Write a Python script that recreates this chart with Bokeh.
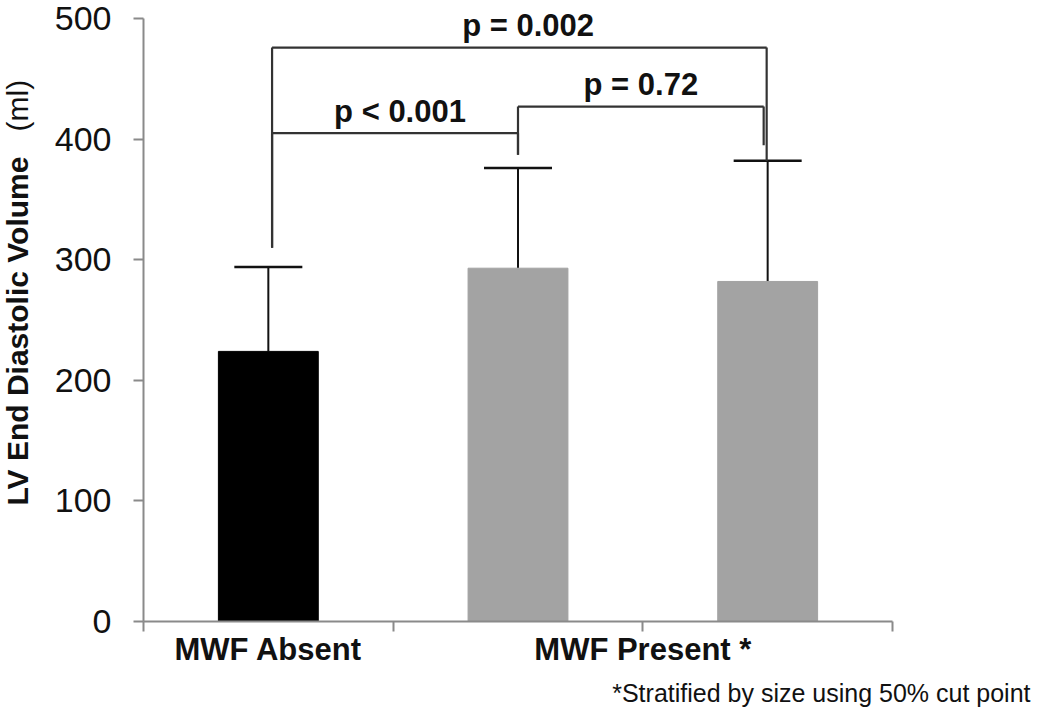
import math
from bokeh.plotting import figure
from bokeh.layouts import row
from bokeh.models import (Range1d, FixedTicker, Whisker, TeeHead, ColumnDataSource,
                          LinearAxis, Title)
from bokeh.core.properties import value
from bokeh.embed import file_html
from bokeh.resources import INLINE

# ---------------- data ----------------
categories = ["MWF Absent", "MWF Present (small)", "MWF Present (large)"]
means = [224, 293, 282]
sd = [70, 83, 100]
bar_colors = ["#000000", "#a3a3a3", "#a3a3a3"]

group_labels = ["MWF Absent", "MWF Present *"]
group_members = [[0], [1, 2]]

y_ticks = [0, 100, 200, 300, 400, 500]

cmp_pairs = [(0, 1), (1, 2), (0, 2)]
cmp_y = [405, 427, 476]
cmp_left_end = [310, 387, 310]
cmp_right_end = [387, 395, 382]
cmp_text = ["p < 0.001", "p = 0.72", "p = 0.002"]

y_label_bold = "LV End Diastolic Volume"
y_label_unit = "(ml)"
footnote = "*Stratified by size using 50% cut point"

FONT = "Liberation Sans"
H = 714
LABEL_W = 40
FRAME_BOTTOM = 621  # pixel row of the x axis

# ---------------- main figure ----------------
p = figure(width=1034 - LABEL_W, height=H, output_backend="svg", toolbar_location=None,
           x_range=Range1d(0, len(categories)), y_range=Range1d(0, 515),
           min_border_left=143 - LABEL_W, min_border_right=142, min_border_top=0,
           min_border_bottom=H - FRAME_BOTTOM)
p.outline_line_color = None
p.grid.visible = False
p.background_fill_color = "white"
p.border_fill_color = "white"

xc = [i + 0.5 for i in range(len(categories))]
src = ColumnDataSource(dict(x=xc, top=means, color=bar_colors,
                            lower=means, upper=[m + s for m, s in zip(means, sd)]))
p.vbar(x="x", top="top", width=0.4, bottom=0, color="color", source=src)

wh = Whisker(base="x", lower="lower", upper="upper", dimension="height", source=src,
             line_color="#111111", line_width=2,
             upper_head=TeeHead(size=68, line_color="#111111", line_width=2.5),
             lower_head=None)
p.add_layout(wh)

# comparison brackets
left_dx = [0.015, 0.0, 0.015]
right_dx = [0.0, -0.016, -0.004]
text_dx = [0.02, 0.0, 0.035]
x0s, y0s, x1s, y1s = [], [], [], []
tx, ty = [], []
for (a, b), y, le, re, dl, dr, dt in zip(cmp_pairs, cmp_y, cmp_left_end, cmp_right_end,
                                         left_dx, right_dx, text_dx):
    xl = xc[a] + dl
    xr = xc[b] + dr
    x0s += [xl, xl, xr]
    y0s += [y, y, y]
    x1s += [xr, xl, xr]
    y1s += [y, le, re]
    tx.append((xl + xr) / 2 + dt)
    ty.append(y + 18)
p.segment(x0=x0s, y0=y0s, x1=x1s, y1=y1s, line_color="#333333", line_width=2.2)
p.text(x=tx, y=ty, text=cmp_text, text_align="center", text_baseline="alphabetic",
       text_font=value(FONT), text_font_style="bold", text_font_size="31px",
       text_color="#111111")

# axes
for ax in (p.xaxis, p.yaxis):
    ax.axis_line_color = "#8a8a8a"
    ax.axis_line_width = 2
    ax.major_tick_line_color = "#8a8a8a"
    ax.major_tick_line_width = 2
    ax.major_tick_in = 0
    ax.major_tick_out = 10
    ax.minor_tick_line_color = None

p.yaxis.ticker = FixedTicker(ticks=y_ticks)
p.yaxis.bounds = (min(y_ticks), max(y_ticks))
p.yaxis.major_label_text_font = FONT
p.yaxis.major_label_text_font_size = "34px"
p.yaxis.major_label_text_color = "#111111"
p.yaxis.major_label_standoff = 22

p.xaxis.ticker = FixedTicker(ticks=list(range(len(categories) + 1)))
p.xaxis.major_label_overrides = {i: "" for i in range(len(categories) + 1)}
p.xaxis.major_label_text_font_size = "1px"
p.xaxis.major_label_standoff = 0

# group labels: a second, line-less axis below
group_pos = [sum(xc[i] for i in mem) / len(mem) for mem in group_members]
gax = LinearAxis(ticker=FixedTicker(ticks=group_pos),
                 major_label_overrides={gp: lab for gp, lab in zip(group_pos, group_labels)},
                 axis_line_color=None, major_tick_line_color=None,
                 minor_tick_line_color=None, major_tick_in=0, major_tick_out=0,
                 major_label_standoff=0,
                 major_label_text_font=FONT, major_label_text_font_style="bold",
                 major_label_text_font_size="31px", major_label_text_color="#111111")
p.add_layout(gax, "below")

# footnote
p.add_layout(Title(text=footnote, align="right", offset=-138, standoff=14,
                   text_font=FONT, text_font_style="normal", text_font_size="25px",
                   text_color="#111111"), "below")

# ---------------- y-axis title strip (its frame aligns with the main frame) ----------------
t = figure(width=LABEL_W, height=H, output_backend="svg", toolbar_location=None,
           x_range=Range1d(0, LABEL_W), y_range=Range1d(FRAME_BOTTOM, 0),
           x_axis_type=None, y_axis_type=None, min_border=0)
t.outline_line_color = None
t.grid.visible = False
t.text(x=[17], y=[505], text=[y_label_bold], angle=math.pi / 2, text_align="left",
       text_baseline="middle", text_font=value(FONT), text_font_style="bold",
       text_font_size="30px", text_color="#111111")
t.text(x=[17], y=[131], text=[y_label_unit], angle=math.pi / 2, text_align="left",
       text_baseline="middle", text_font=value(FONT), text_font_style="normal",
       text_font_size="30px", text_color="#111111")

layout = row(t, p, spacing=0)
open("out.html", "w").write(file_html(layout, INLINE))
